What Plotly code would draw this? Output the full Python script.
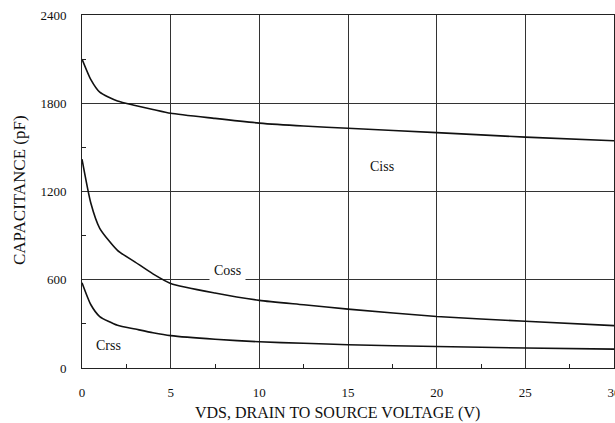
import plotly.graph_objects as go

vds = [0, 0.5, 1, 2, 3, 4, 5, 7.5, 10, 12.5, 15, 20, 25, 30]
ciss = [2100, 1960, 1875, 1815, 1785, 1758, 1732, 1697, 1665, 1645, 1630, 1600, 1570, 1545]
coss = [1420, 1120, 950, 800, 720, 640, 575, 510, 460, 430, 400, 350, 318, 288]
crss = [580, 430, 350, 290, 265, 240, 220, 195, 178, 168, 158, 146, 136, 128]

x_ticks = [0, 5, 10, 15, 20, 25, 30]
y_ticks = [0, 600, 1200, 1800, 2400]

font = "Liberation Serif"

fig = go.Figure()
for ys in (ciss, coss, crss):
    fig.add_trace(go.Scatter(x=vds, y=ys, mode="lines",
                             line=dict(color="#111", width=1.6, shape="spline", smoothing=0.6),
                             showlegend=False, hoverinfo="skip"))

fig.add_annotation(x=16.9, y=1367, text="Ciss", showarrow=False,
                   font=dict(family=font, size=14, color="#111"))
fig.add_annotation(x=8.2, y=660, text="Coss", showarrow=False, bgcolor="white",
                   borderpad=4, font=dict(family=font, size=14, color="#111"))
fig.add_annotation(x=1.5, y=156, text="Crss", showarrow=False,
                   font=dict(family=font, size=14, color="#111"))

# axis titles
fig.add_annotation(xref="x domain", yref="y domain", x=(337 - 82) / 532, y=-(413 - 368) / 353,
                   xanchor="center", yanchor="middle",
                   text="VDS, DRAIN TO SOURCE VOLTAGE (V)",
                   showarrow=False, font=dict(family=font, size=16, color="#111"))
fig.add_annotation(xref="x domain", yref="y domain", x=-(82 - 19) / 532, y=(368 - 190) / 353,
                   xanchor="center", yanchor="middle",
                   text="CAPACITANCE (pF)", textangle=-90, showarrow=False,
                   font=dict(family=font, size=17, color="#111"))

axis_common = dict(showline=True, linecolor="#222", linewidth=1, mirror=True,
                   showgrid=True, gridcolor="#333", gridwidth=1, zeroline=False,
                   ticks="", ticklabeloverflow="allow", automargin=False,
                   tickfont=dict(family=font, size=13, color="#111"))

fig.update_xaxes(range=[0, 30], tickvals=x_ticks, ticktext=[str(v) for v in x_ticks],
                 minor=dict(ticks="inside", ticklen=4, tickvals=[2.5, 7.5, 12.5, 17.5, 22.5, 27.5],
                            tickcolor="#222", showgrid=False),
                 ticklabelstandoff=12, **axis_common)
fig.update_yaxes(range=[0, 2400], tickvals=y_ticks, ticktext=[str(v) for v in y_ticks],
                 minor=dict(ticks="inside", ticklen=4, tickvals=[300, 900, 1500, 2100],
                            tickcolor="#222", showgrid=False),
                 ticklabelstandoff=12, **axis_common)

fig.update_layout(width=615, height=423, margin=dict(l=82, r=1, t=15, b=55),
                  font=dict(family=font, color="#111"),
                  plot_bgcolor="white", paper_bgcolor="white")

fig.write_html("out.html", config={"displayModeBar": False},
               post_script="document.body.style.margin='0';document.body.style.overflow='hidden';")
